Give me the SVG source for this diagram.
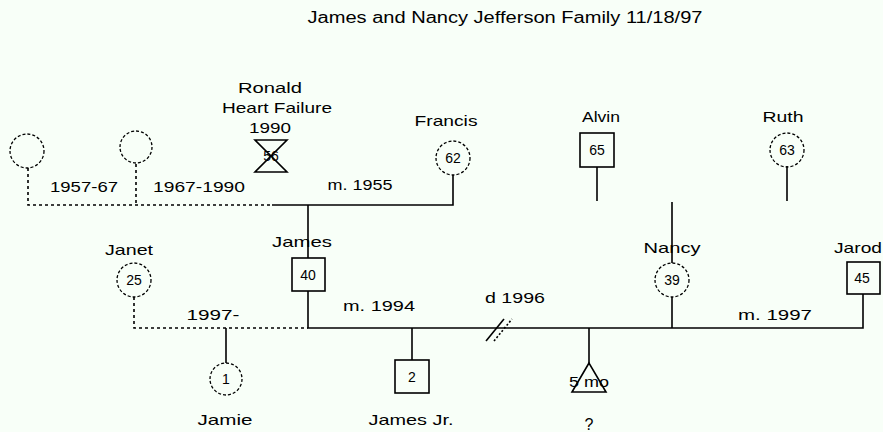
<svg xmlns="http://www.w3.org/2000/svg" width="883" height="432" viewBox="0 0 883 432">
<style>
text{font-family:"Liberation Sans",Arial,sans-serif;font-size:15px;fill:#000;text-anchor:middle}
.s{font-size:14px}
.ln{stroke:#000;stroke-width:1.6;fill:none}
.dl{stroke:#000;stroke-width:1.6;fill:none;stroke-dasharray:3 3}
.dc{stroke:#000;stroke-width:1.3;fill:none;stroke-dasharray:3 2}
.bx{stroke:#000;stroke-width:1.6;fill:none}
</style>
<rect width="883" height="432" fill="#f8fff8"/>
<text x="505" y="23" textLength="395" lengthAdjust="spacingAndGlyphs" style="font-size:16px">James and Nancy Jefferson Family 11/18/97</text>
<g id="connectors">
<path class="dl" d="M28 168V205H272"/>
<path class="dl" d="M136 164V205"/>
<path class="ln" d="M272 205H453V175"/>
<path class="ln" d="M308 205V258M308 291V328H863V294"/>
<path class="dl" d="M134 297V328H308"/>
<path class="ln" d="M226 328V363"/>
<path class="ln" d="M412 328V360"/>
<path class="ln" d="M589 328V363"/>
<path class="ln" d="M672 202V263M672 297V328"/>
<path class="ln" d="M597 167V201"/>
<path class="ln" d="M787 166V201"/>
<path class="ln" d="M486 341L504 319"/>
<path class="dl" d="M494 341L512 319" style="stroke-dasharray:2 2"/>
</g>
<g id="labels">
<text x="84" y="192" textLength="68" lengthAdjust="spacingAndGlyphs">1957-67</text>
<text x="199" y="192" textLength="92" lengthAdjust="spacingAndGlyphs">1967-1990</text>
<text x="360" y="190" textLength="65" lengthAdjust="spacingAndGlyphs">m. 1955</text>
<text x="213" y="320" textLength="53" lengthAdjust="spacingAndGlyphs">1997-</text>
<text x="379" y="311" textLength="72" lengthAdjust="spacingAndGlyphs">m. 1994</text>
<text x="515" y="303" textLength="60" lengthAdjust="spacingAndGlyphs">d 1996</text>
<text x="775" y="320" textLength="74" lengthAdjust="spacingAndGlyphs">m. 1997</text>
</g>
<g id="u1"><circle class="dc" cx="27" cy="151" r="17"/></g>
<g id="u2"><circle class="dc" cx="136" cy="147" r="16"/></g>
<g id="ronald">
<text x="270" y="93" textLength="64" lengthAdjust="spacingAndGlyphs">Ronald</text>
<text x="277" y="113" textLength="110" lengthAdjust="spacingAndGlyphs">Heart Failure</text>
<text x="270" y="133" textLength="42" lengthAdjust="spacingAndGlyphs">1990</text>
<path class="ln" d="M255 140H287L255 172H287Z"/>
<text x="271" y="161" class="s">56</text>
</g>
<g id="francis">
<text x="446" y="126" textLength="63" lengthAdjust="spacingAndGlyphs">Francis</text>
<circle class="dc" cx="453" cy="158" r="17"/>
<text x="453" y="163" class="s">62</text>
</g>
<g id="alvin">
<text x="601" y="122" textLength="38" lengthAdjust="spacingAndGlyphs">Alvin</text>
<rect class="bx" x="580" y="133" width="34" height="34"/>
<text x="597" y="155" class="s">65</text>
</g>
<g id="ruth">
<text x="783" y="122" textLength="41" lengthAdjust="spacingAndGlyphs">Ruth</text>
<circle class="dc" cx="787" cy="150" r="17"/>
<text x="787" y="155" class="s">63</text>
</g>
<g id="james">
<text x="302" y="247" textLength="60" lengthAdjust="spacingAndGlyphs">James</text>
<rect class="bx" x="292" y="258" width="33" height="33"/>
<text x="308" y="280" class="s">40</text>
</g>
<g id="janet">
<text x="129" y="255" textLength="48" lengthAdjust="spacingAndGlyphs">Janet</text>
<circle class="dc" cx="134" cy="280" r="17"/>
<text x="134" y="285" class="s">25</text>
</g>
<g id="nancy">
<text x="672" y="253" textLength="57" lengthAdjust="spacingAndGlyphs">Nancy</text>
<circle class="dc" cx="672" cy="280" r="17"/>
<text x="672" y="285" class="s">39</text>
</g>
<g id="jarod">
<text x="858" y="253" textLength="48" lengthAdjust="spacingAndGlyphs">Jarod</text>
<rect class="bx" x="847" y="262" width="33" height="32"/>
<text x="862" y="283" class="s">45</text>
</g>
<g id="jamie">
<circle class="dc" cx="226" cy="379" r="16"/>
<text x="226" y="384" class="s">1</text>
<text x="225" y="425" textLength="55" lengthAdjust="spacingAndGlyphs">Jamie</text>
</g>
<g id="jamesjr">
<rect class="bx" x="395" y="360" width="34" height="33"/>
<text x="412" y="382" class="s">2</text>
<text x="411" y="425" textLength="85" lengthAdjust="spacingAndGlyphs">James Jr.</text>
</g>
<g id="miscarriage">
<path class="ln" d="M589 363L572 392H606Z"/>
<text x="589" y="387" class="s" textLength="40" lengthAdjust="spacingAndGlyphs">5 mo</text>
<text x="589" y="430" style="font-size:16px">?</text>
</g>
</svg>
